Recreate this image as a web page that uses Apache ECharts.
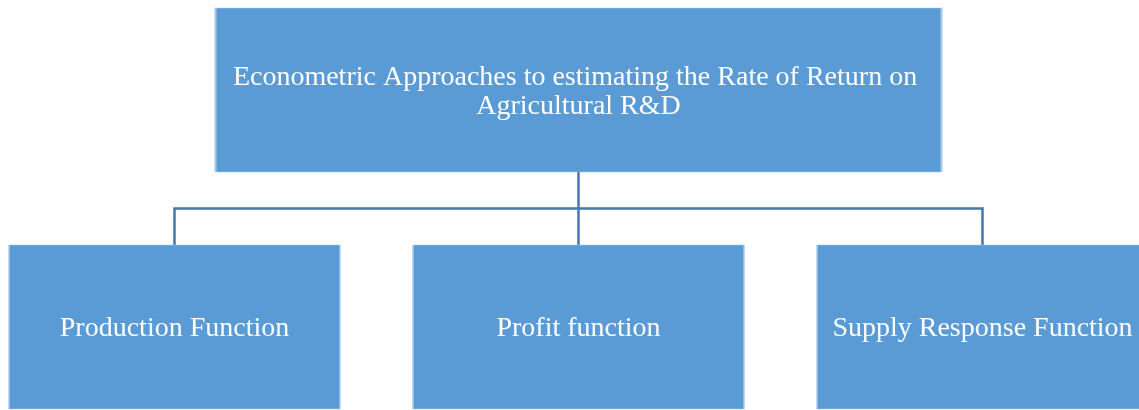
<!DOCTYPE html>
<html lang="en">
<head>
	<meta charset="UTF-8">
	<title>Econometric Approaches</title>
	<script src="https://cdn.jsdelivr.net/npm/echarts@6/dist/echarts.min.js"></script>
	<style>
		html,body{width:100%;height:100%;margin:0;background:#fff;}
		#chart{width:1139px;height:410px;}
	</style>
</head>
<body>
	<div id="chart"></div>
	<script>
		// 数据
		var rootName = 'Econometric Approaches to estimating the Rate of Return on Agricultural R&D';
		var childNames = ['Production Function', 'Profit function', 'Supply Response Function'];

		var myChart = echarts.init(document.getElementById('chart'));

		var children = [];
		for (var i = 0; i < childNames.length; i++) {
			children.push({
				name: childNames[i],
				symbolSize: [331, 164]
			});
		}

		// tree 布局两侧各留半个间距，所以盒子宽度要放大
		var option = {
			animation: false,
			series: [{
				type: 'tree',
				orient: 'TB',
				edgeShape: 'polyline',
				roam: false,
				expandAndCollapse: false,
				left: -27.5,
				width: 1212,
				top: 90,
				bottom: 83,
				symbol: 'rect',
				itemStyle: {
					color: '#5b9bd5',
					borderColor: '#a9cbea',
					borderWidth: 1
				},
				lineStyle: {
					color: '#4776ab',
					width: 2.5,
					curveness: 0
				},
				label: {
					position: 'inside',
					color: '#fff',
					fontFamily: '"Liberation Serif", "Times New Roman", serif',
					fontSize: 28,
					lineHeight: 29,
					offset: [0, 2]
				},
				emphasis: { disabled: true },
				data: [{
					name: rootName,
					symbolSize: [726, 164],
					label: {
						width: 700,
						overflow: 'break'
					},
					children: children
				}]
			}]
		};
		myChart.setOption(option);
	</script>
</body>
</html>
